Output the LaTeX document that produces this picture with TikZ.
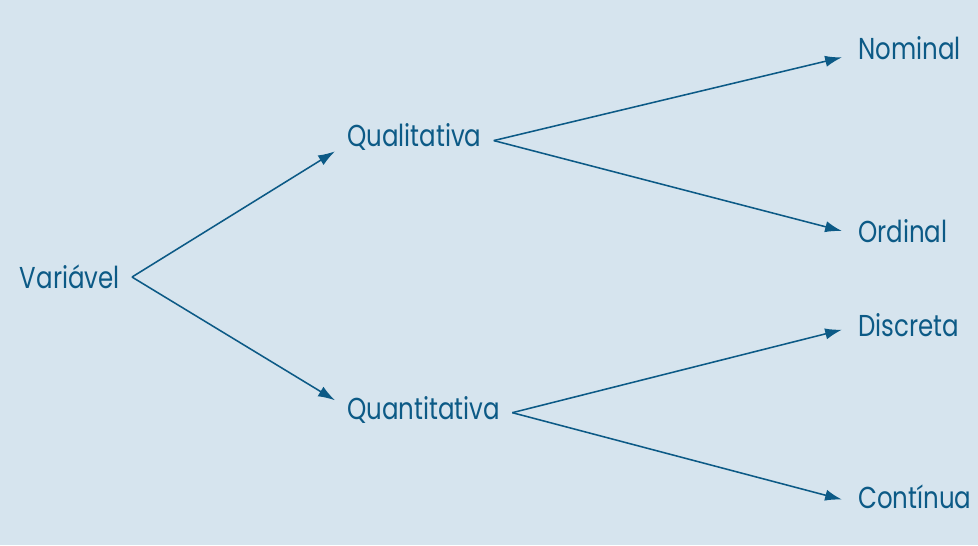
\documentclass[tikz,border=0pt]{standalone}
\usepackage{fontspec}
\setmainfont[FakeStretch=0.81]{Poppins}
\usetikzlibrary{arrows.meta}

\definecolor{fundo}{RGB}{214,228,238}
\definecolor{tinta}{RGB}{12,90,134}

\tikzset{
  ramo/.style={draw=tinta, line width=1.1pt, -{Latex[length=12pt,width=8pt]}},
  termo/.style={text=tinta, font=\fontsize{21.5}{26}\selectfont,
    inner xsep=8.5pt, inner ysep=3.6pt, text height=15.6pt, text depth=0pt},
  folha/.style={termo, inner xsep=11.4pt}
}

\begin{document}
\begin{tikzpicture}[x=0.025cm, y=-0.025cm]
    \fill[fundo] (0,0) rectangle (978,545);
    \useasboundingbox (0,0) rectangle (978,545);

    \node[termo, anchor=base east] (var) at (132,288) {Variável};

    \node[termo, anchor=base west] (qual) at (335,146) {Qualitativa};
    \node[termo, anchor=base west] (quant) at (335,419) {Quantitativa};

    \node[folha, anchor=base west] (nom) at (842,60) {Nominal};
    \node[folha, anchor=base west] (ord) at (842,242) {Ordinal};
    \node[folha, anchor=base west] (disc) at (842,336) {Discreta};
    \node[folha, anchor=base west] (cont) at (842,508) {Contínua};

    \draw[ramo] (var.east) -- (qual.south west);
    \draw[ramo] (var.east) -- (quant.175);

    \draw[ramo] (qual.-4) -- (nom.187);
    \draw[ramo] (qual.-4) -- (ord.west);
    \draw[ramo] (quant.-3) -- (disc.184);
    \draw[ramo] (quant.-3) -- (cont.182);
\end{tikzpicture}
\end{document}
